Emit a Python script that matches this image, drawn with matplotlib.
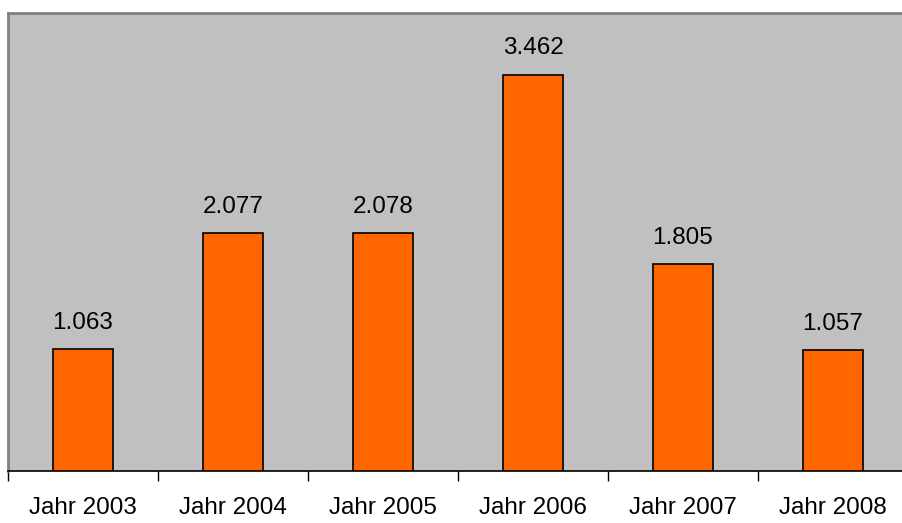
import numpy as np
import matplotlib.pyplot as plt

# Werte je Jahr
jahre = ["Jahr 2003", "Jahr 2004", "Jahr 2005", "Jahr 2006", "Jahr 2007", "Jahr 2008"]
werte = [1063, 2077, 2078, 3462, 1805, 1057]
beschriftung = ["1.063", "2.077", "2.078", "3.462", "1.805", "1.057"]

plt.rcParams['font.family'] = ['Liberation Sans', 'DejaVu Sans']

W, H = 902, 523
fig = plt.figure(figsize=(W / 100, H / 100), dpi=100)
# plot area runs past the right edge of the image
ax = fig.add_axes([8 / W, (H - 471) / H, 900 / W, 458 / H])
ax.set_facecolor('#C0C0C0')

x = np.arange(len(jahre))
bars = ax.bar(x, werte, width=0.4, color='#FF6600', edgecolor='black', linewidth=1.2, zorder=3)

for xi, v, t in zip(x, werte, beschriftung):
    ax.annotate(t, (xi, v), xytext=(0, 11), textcoords='offset points',
                ha='center', va='bottom', fontsize=17.5)

ax.set_xlim(-0.5, len(jahre) - 0.5)
ax.set_ylim(0, 4000)
ax.set_yticks([])
ax.set_xticks(x)
ax.set_xticklabels(jahre, fontsize=17.5)
ax.tick_params(axis='x', which='major', length=0, pad=19)
ax.set_xticks(np.arange(len(jahre) + 1) - 0.5, minor=True)
ax.tick_params(axis='x', which='minor', length=7, width=1, color='black')

ax.spines['right'].set_visible(False)
for s in ('top', 'left'):
    ax.spines[s].set_color('#808080')
    ax.spines[s].set_linewidth(2)
ax.spines['bottom'].set_color('black')
ax.spines['bottom'].set_linewidth(1.2)

fig.savefig('out.png', dpi=100)
